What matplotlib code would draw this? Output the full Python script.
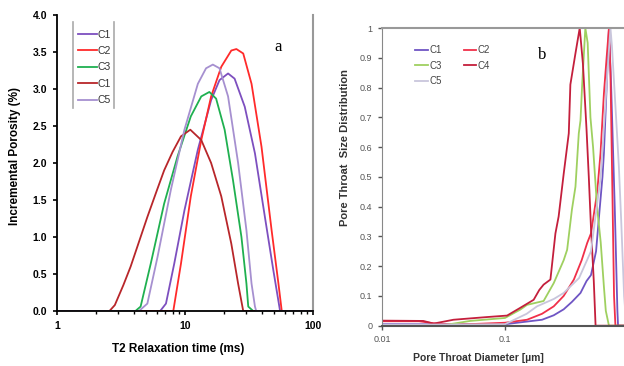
import numpy as np
import matplotlib
matplotlib.use('Agg')
from matplotlib import pyplot as plt
from matplotlib.ticker import LogLocator, FixedLocator, NullFormatter, FuncFormatter
from matplotlib.lines import Line2D

plt.rcParams['font.family'] = ['Liberation Sans', 'DejaVu Sans']

# ---- panel a : T2 relaxation ----
a_labels = ['C1', 'C2', 'C3', 'C1', 'C5']
a_colors = ['#7d4fbf', '#ff2a2a', '#1fb050', '#b8262a', '#a690d0']

a_c1_x = [1, 6.4, 7.1, 8.24, 9.9, 12.6, 16.0, 18.6, 21.7, 24.4, 29.3, 35.2, 42.1, 49, 55.3, 100]
a_c1_y = [0, 0, 0.1, 0.64, 1.36, 2.18, 2.85, 3.12, 3.21, 3.14, 2.76, 2.13, 1.27, 0.55, 0, 0]

a_c2_x = [1, 8.1, 9.3, 11.1, 13.4, 16.0, 19.2, 23.0, 25.2, 28.5, 33.1, 39.6, 47.5, 53.7, 57, 100]
a_c2_y = [0, 0, 0.64, 1.55, 2.31, 2.9, 3.3, 3.52, 3.54, 3.48, 3.07, 2.22, 1.09, 0.37, 0, 0]

a_c3_x = [1, 4.1, 4.5, 5.4, 6.87, 8.75, 11.1, 13.4, 15.5, 17.5, 20.4, 23.7, 27.6, 30.2, 31.2, 34.1, 100]
a_c3_y = [0, 0, 0.06, 0.64, 1.45, 2.09, 2.63, 2.9, 2.96, 2.87, 2.45, 1.77, 1.0, 0.37, 0.06, 0, 0]

a_c4_x = [1, 2.57, 2.83, 3.3, 3.76, 4.4, 5.08, 6.0, 6.87, 8.0, 9.3, 11.0, 13.4, 16.0, 19.2, 23.0, 26.0, 28.5, 100]
a_c4_y = [0, 0, 0.08, 0.35, 0.6, 0.95, 1.27, 1.62, 1.9, 2.15, 2.36, 2.45, 2.31, 2.0, 1.55, 0.91, 0.37, 0, 0]

a_c5_x = [1, 4.37, 5.08, 6.1, 7.76, 9.9, 12.6, 14.6, 16.5, 18.6, 21.7, 26.0, 30.2, 33.1, 35.2, 36, 100]
a_c5_y = [0, 0, 0.1, 0.73, 1.64, 2.45, 3.07, 3.28, 3.33, 3.28, 2.9, 2.0, 1.09, 0.37, 0.06, 0, 0]

a_x = [a_c1_x, a_c2_x, a_c3_x, a_c4_x, a_c5_x]
a_y = [a_c1_y, a_c2_y, a_c3_y, a_c4_y, a_c5_y]

# ---- panel b : pore throat size ----
b_labels = ['C1', 'C2', 'C3', 'C4', 'C5']
b_colors = ['#6f55c4', '#f0304a', '#9fd060', '#c41f3c', '#c9c6dc']

b_c1_x = [0.01, 0.1, 0.2, 0.249, 0.3, 0.35, 0.411, 0.46, 0.5, 0.55, 0.578, 0.62, 0.637, 0.67, 0.70, 0.73, 0.78, 0.82, 0.83, 1.0]
b_c1_y = [0.005, 0.005, 0.02, 0.035, 0.055, 0.08, 0.11, 0.15, 0.17, 0.25, 0.355, 0.5, 0.58, 0.8, 1.0, 0.8, 0.4, 0.05, 0, 0]

b_c2_x = [0.01, 0.02, 0.03, 0.05, 0.1, 0.151, 0.2, 0.249, 0.3, 0.363, 0.42, 0.466, 0.5, 0.562, 0.598, 0.637, 0.67, 0.70, 0.72, 0.75, 0.77, 0.79, 1.0]
b_c2_y = [0.015, 0.015, 0.005, 0.005, 0.01, 0.02, 0.04, 0.065, 0.1, 0.155, 0.22, 0.278, 0.31, 0.45, 0.58, 0.78, 0.9, 1.0, 0.85, 0.4, 0.1, 0, 0]

b_c3_x = [0.01, 0.03, 0.052, 0.1, 0.133, 0.151, 0.206, 0.249, 0.3, 0.32, 0.35, 0.374, 0.398, 0.411, 0.424, 0.45, 0.47, 0.495, 0.52, 0.56, 0.60, 0.637, 0.66, 0.70, 1.0]
b_c3_y = [0, 0, 0.016, 0.026, 0.054, 0.07, 0.083, 0.143, 0.22, 0.255, 0.39, 0.467, 0.646, 0.69, 0.81, 1.0, 0.95, 0.7, 0.6, 0.4, 0.28, 0.131, 0.05, 0, 0]

b_c4_x = [0.01, 0.0217, 0.0262, 0.0381, 0.0712, 0.104, 0.133, 0.171, 0.19, 0.206, 0.234, 0.257, 0.273, 0.30, 0.33, 0.34, 0.374, 0.405, 0.43, 0.46, 0.48, 0.50, 0.527, 0.545, 1.0]
b_c4_y = [0.017, 0.016, 0.007, 0.02, 0.029, 0.034, 0.06, 0.087, 0.12, 0.138, 0.155, 0.31, 0.367, 0.51, 0.646, 0.81, 0.915, 1.0, 0.88, 0.66, 0.5, 0.33, 0.15, 0, 0]

b_c5_x = [0.01, 0.1, 0.15, 0.182, 0.25, 0.3, 0.4, 0.5, 0.6, 0.68, 0.72, 0.74, 0.8, 0.843, 0.88, 0.93, 0.97, 1.0]
b_c5_y = [0.003, 0.005, 0.04, 0.065, 0.09, 0.11, 0.16, 0.25, 0.5, 0.85, 1.0, 0.94, 0.7, 0.534, 0.355, 0.1, 0, 0]

b_x = [b_c1_x, b_c2_x, b_c3_x, b_c4_x, b_c5_x]
b_y = [b_c1_y, b_c2_y, b_c3_y, b_c4_y, b_c5_y]

fig = plt.figure(figsize=(6.24, 3.66), dpi=100)

#Panel a
ax1 = fig.add_axes([57/624, 1-311/366, (313-57)/624, (311-15)/366])
for xs, ys, c, lab in zip(a_x, a_y, a_colors, a_labels):
    ax1.plot(xs, ys, color=c, lw=1.3, label=lab)
ax1.set_xscale('log')
ax1.set_xlim(1, 100)
ax1.set_ylim(0, 4.0)
ax1.set_yticks(np.arange(0, 4.01, 0.5))
ax1.yaxis.set_major_formatter(FuncFormatter(lambda v, p: '%.1f' % v))
ax1.xaxis.set_major_formatter(FuncFormatter(lambda v, p: '%g' % v))
ax1.xaxis.set_minor_locator(LogLocator(base=10, subs=np.arange(2, 10)))
ax1.xaxis.set_minor_formatter(NullFormatter())
ax1.tick_params(axis='both', which='major', labelsize=7.5, length=3, width=1.2, color='black', pad=4)
ax1.tick_params(axis='x', which='minor', length=2.5, width=1)
for t in ax1.get_xticklabels() + ax1.get_yticklabels():
    t.set_fontweight('bold')
ax1.spines['top'].set_visible(False)
ax1.spines['right'].set_color('#999999')
ax1.spines['right'].set_linewidth(1.5)
ax1.spines['left'].set_linewidth(1.3)
ax1.spines['bottom'].set_linewidth(1.3)
leg1 = ax1.legend(loc='upper left', bbox_to_anchor=(0.065, 0.965), frameon=False, fontsize=7.5,
                  handlelength=1.8, handletextpad=0.1, labelspacing=0.62, borderaxespad=0)
for txt in leg1.get_texts():
    txt.set_color('#333333')
fig.add_artist(Line2D([73/624, 73/624], [1-22/366, 1-108/366], color='#aaaaaa', lw=1.2))
fig.add_artist(Line2D([114/624, 114/624], [1-22/366, 1-108/366], color='#aaaaaa', lw=1.2))
fig.text(278/624, 1-47/366, 'a', family='Liberation Serif', fontsize=12, ha='center', va='center')
fig.text(178/624, 1-349/366, 'T2 Relaxation time (ms)', fontsize=8.5, fontweight='bold', ha='center', va='center')
fig.text(15/624, 1-156/366, 'Incremental Porosity (%)', fontsize=8.5, fontweight='bold', rotation=90, ha='center', va='center')

#Panel b
ax2 = fig.add_axes([382/624, 1-325.7/366, (628-382)/624, (325.7-28)/366])
lines2 = []
for xs, ys, c, lab in zip(b_x, b_y, b_colors, b_labels):
    ln, = ax2.plot(xs, ys, color=c, lw=1.3, label=lab)
    lines2.append(ln)
ax2.set_xscale('log')
ax2.set_xlim(0.01, 1)
ax2.set_ylim(0, 1)
ax2.set_yticks(np.arange(0, 1.01, 0.1))
ax2.yaxis.set_major_formatter(FuncFormatter(lambda v, p: '%g' % round(v, 1)))
ax2.xaxis.set_major_locator(FixedLocator([0.01, 0.1]))
ax2.xaxis.set_major_formatter(FuncFormatter(lambda v, p: '%g' % v))
ax2.xaxis.set_minor_locator(FixedLocator([]))
ax2.tick_params(axis='both', which='major', labelsize=6.5, length=3, width=1, color='#555555',
                labelcolor='#555555', pad=4)
ax2.spines['top'].set_color('#999999')
ax2.spines['top'].set_linewidth(1.5)
ax2.spines['right'].set_visible(False)
ax2.spines['left'].set_color('#888888')
ax2.spines['bottom'].set_color('#555555')
ax2.spines['bottom'].set_linewidth(1.5)
# row-wise order: C1 C2 / C3 C4 / C5
order = [0, 2, 4, 1, 3]
leg2 = ax2.legend([lines2[i] for i in order], [b_labels[i] for i in order],
                  loc='upper left', bbox_to_anchor=(0.12, 0.955), ncol=2, frameon=False, fontsize=7,
                  handlelength=1.3, handletextpad=0.1, labelspacing=0.55, columnspacing=2.3, borderaxespad=0)
for txt in leg2.get_texts():
    txt.set_color('#444444')
fig.text(542/624, 1-55/366, 'b', family='Liberation Serif', fontsize=12, ha='center', va='center')
fig.text(478/624, 1-358/366, 'Pore Throat Diameter [\u00b5m]', fontsize=7.5, fontweight='bold', color='#333333',
         ha='center', va='center')
fig.text(345/624, 1-148/366, 'Pore Throat  Size Distribution', fontsize=8, fontweight='bold', color='#333333',
         rotation=90, ha='center', va='center')

plt.savefig('out.png', dpi=100)
